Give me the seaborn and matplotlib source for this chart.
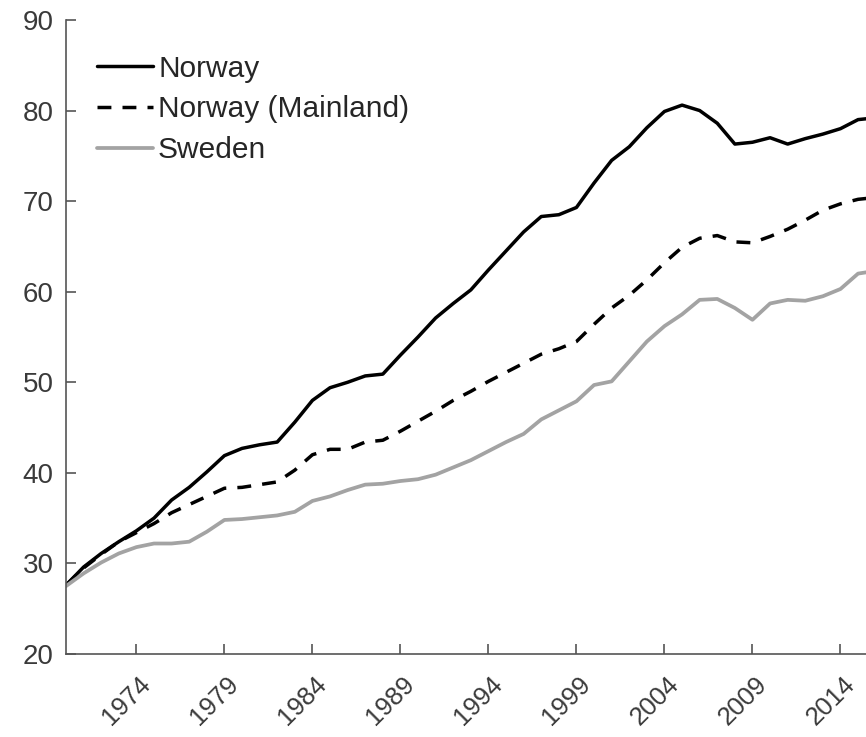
import pandas as pd
import numpy as np
import matplotlib
matplotlib.use("Agg")
import matplotlib.pyplot as plt
import matplotlib.transforms as mtransforms
import seaborn as sns

sns.set_style("white")
plt.rcParams['font.family'] = ['Liberation Sans', 'DejaVu Sans']

# Dados
anos = list(range(1970, 2017))

noruega = [27.6, 29.6, 31.1, 32.4, 33.6, 35.0, 37.0, 38.4, 40.1, 41.9,
           42.7, 43.1, 43.4, 45.6, 48.0, 49.4, 50.0, 50.7, 50.9, 53.0,
           55.0, 57.1, 58.7, 60.2, 62.4, 64.5, 66.6, 68.3, 68.5, 69.3,
           72.0, 74.5, 76.0, 78.1, 79.9, 80.6, 80.0, 78.6, 76.3, 76.5,
           77.0, 76.3, 76.9, 77.4, 78.0, 79.0, 79.2]

noruega_cont = [27.6, 29.5, 31.0, 32.4, 33.4, 34.4, 35.6, 36.5, 37.4, 38.3,
                38.4, 38.7, 39.0, 40.3, 42.0, 42.6, 42.6, 43.4, 43.6, 44.6,
                45.7, 46.8, 48.0, 49.0, 50.1, 51.1, 52.1, 53.1, 53.7, 54.5,
                56.4, 58.2, 59.6, 61.3, 63.2, 64.9, 65.9, 66.2, 65.5, 65.4,
                66.1, 66.9, 67.9, 69.0, 69.7, 70.2, 70.4]

suecia = [27.5, 28.9, 30.1, 31.1, 31.8, 32.2, 32.2, 32.4, 33.5, 34.8,
          34.9, 35.1, 35.3, 35.7, 36.9, 37.4, 38.1, 38.7, 38.8, 39.1,
          39.3, 39.8, 40.6, 41.4, 42.4, 43.4, 44.3, 45.9, 46.9, 47.9,
          49.7, 50.1, 52.3, 54.5, 56.2, 57.5, 59.1, 59.2, 58.2, 56.9,
          58.7, 59.1, 59.0, 59.5, 60.3, 62.0, 62.3]

ticks_x = [1974, 1979, 1984, 1989, 1994, 1999, 2004, 2009, 2014]
ticks_y = [20, 30, 40, 50, 60, 70, 80, 90]

df = pd.DataFrame({'Ano': anos, 'Norway': noruega,
                   'Norway (Mainland)': noruega_cont, 'Sweden': suecia})

fig = plt.figure(figsize=(8.66, 7.37), dpi=100)
ax = fig.add_axes([0.0762, 0.1126, 0.9238, 0.8603])

sns.lineplot(data=df, x='Ano', y='Norway', ax=ax, color='black', lw=2.5, label='Norway')
sns.lineplot(data=df, x='Ano', y='Norway (Mainland)', ax=ax, color='black', lw=2.5,
             dashes=(4, 3.2), label='Norway (Mainland)')
sns.lineplot(data=df, x='Ano', y='Sweden', ax=ax, color='#a3a3a3', lw=2.7, label='Sweden')

ax.set_xlim(1970, 2015.45)
ax.set_ylim(20, 90)
ax.set_xticks(ticks_x)
ax.set_yticks(ticks_y)
ax.set_xlabel('')
ax.set_ylabel('')

for lado in ['top', 'right']:
    ax.spines[lado].set_visible(False)
for lado in ['left', 'bottom']:
    ax.spines[lado].set_color('#555555')
    ax.spines[lado].set_linewidth(1.2)

ax.tick_params(bottom=True, left=True, direction='in', length=7, width=1.2,
               color='#555555', labelsize=20, labelcolor='#3a3a3a')
ax.tick_params(axis='y', pad=9)
ax.tick_params(axis='x', pad=13, labelsize=18.5)

# rótulos do eixo x inclinados, deslocados um pouco para a direita
desloc = mtransforms.ScaledTranslation(19 / 100, 0, fig.dpi_scale_trans)
for lbl in ax.get_xticklabels():
    lbl.set_rotation(45)
    lbl.set_ha('right')
    lbl.set_va('top')
    lbl.set_transform(lbl.get_transform() + desloc)

ax.legend(loc='upper left', bbox_to_anchor=(0.024, 0.9637), frameon=False, fontsize=21.5,
          handlelength=1.87, handletextpad=0.17, labelspacing=0.42, borderaxespad=0)

plt.savefig('out.png', dpi=100)
